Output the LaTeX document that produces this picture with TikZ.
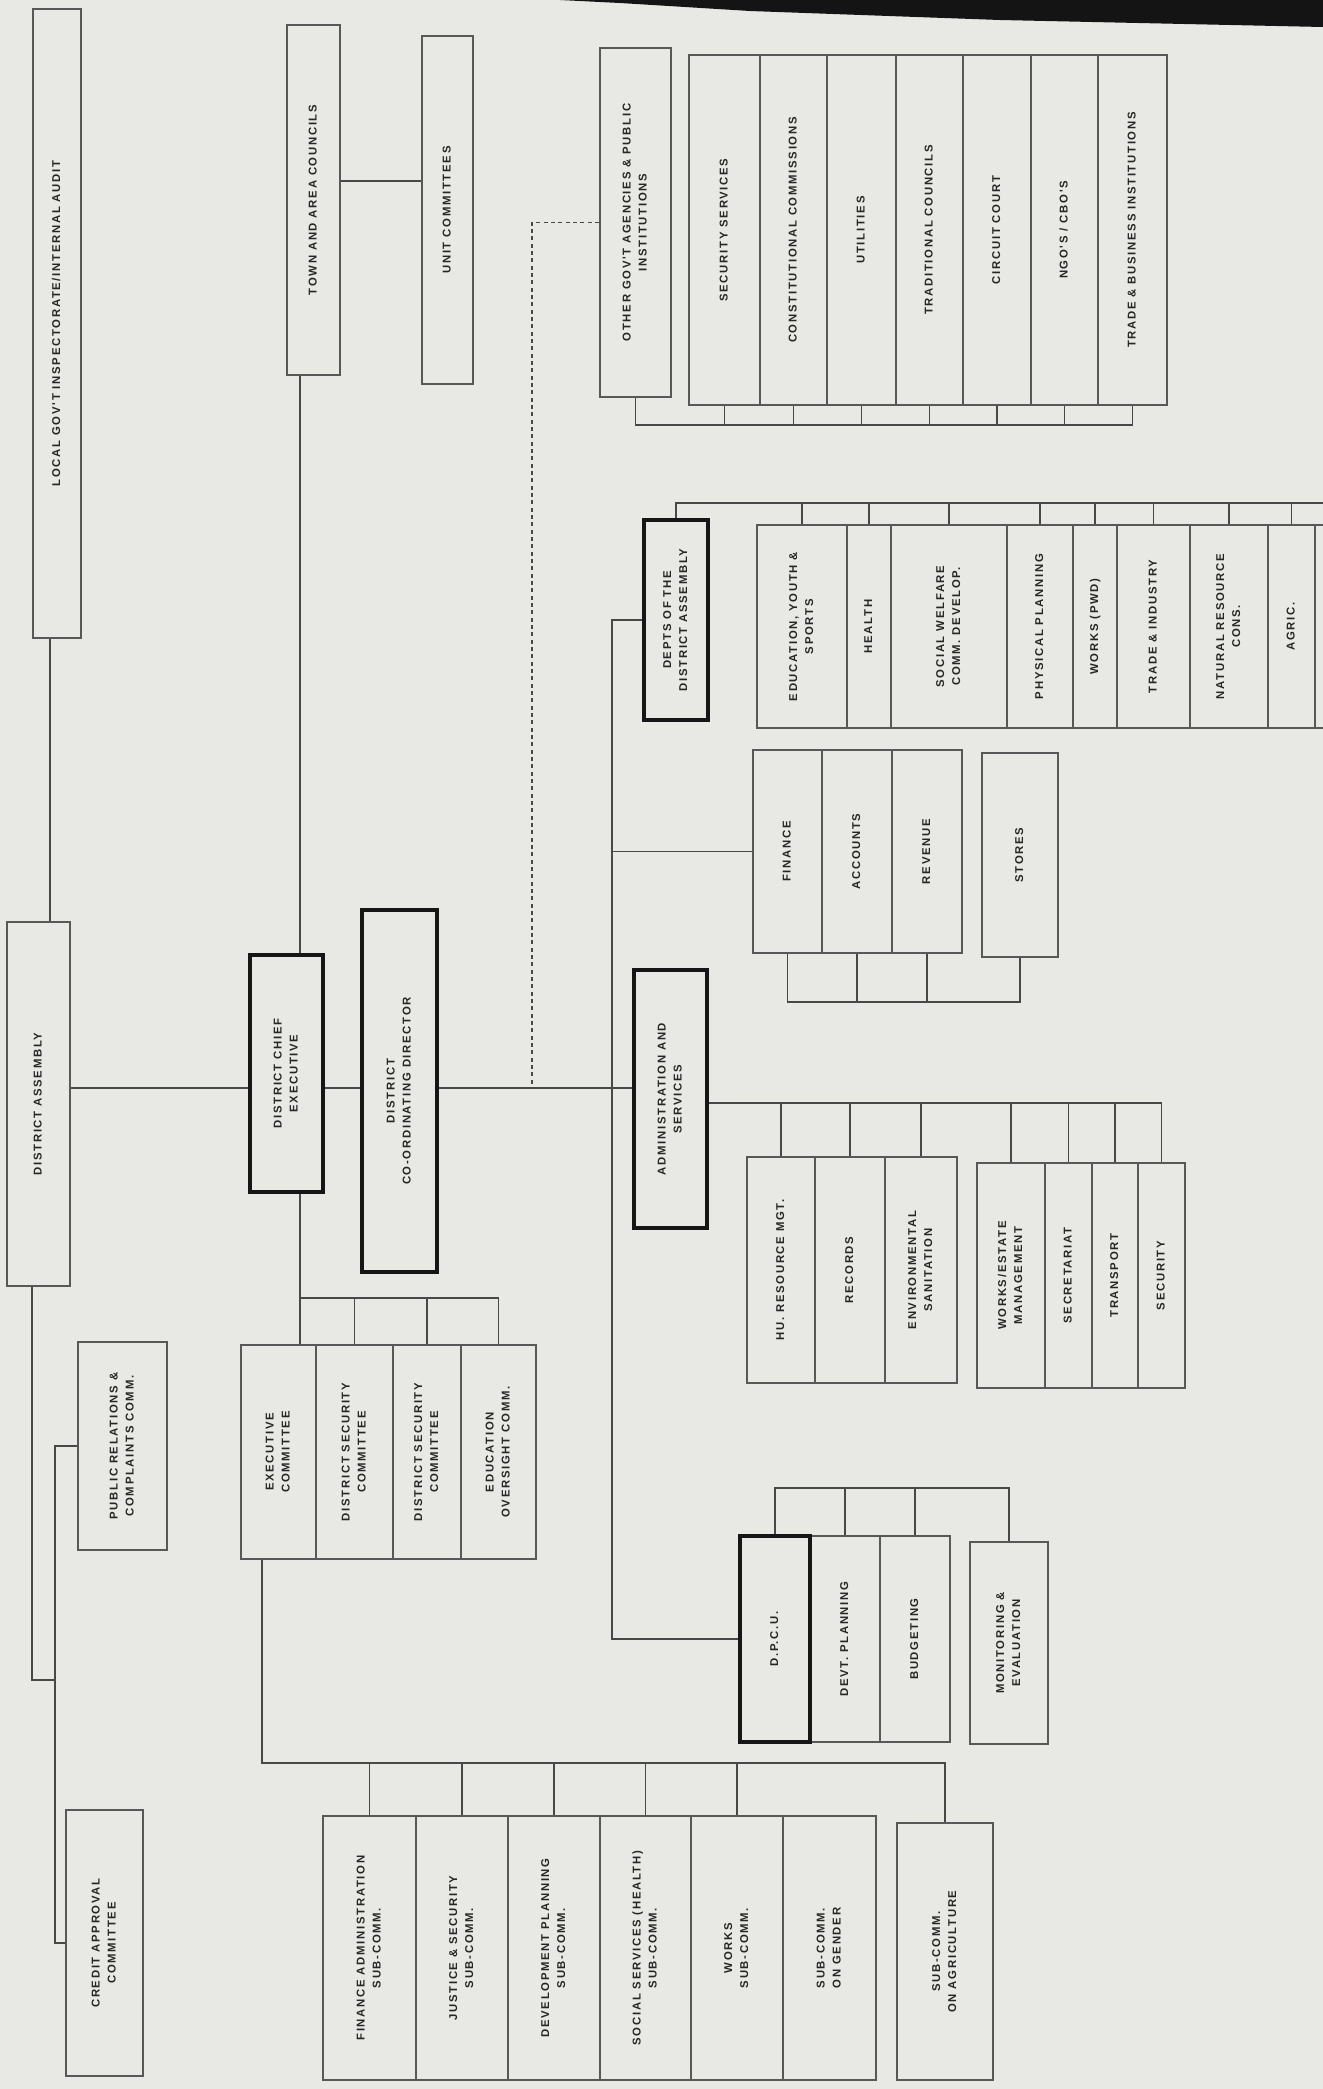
\documentclass[tikz,border=0pt]{standalone}
\usepackage{fontspec}
\usepackage{graphicx}
\newfontfamily\chartfont[LetterSpace=15]{Liberation Sans}
\usetikzlibrary{calc,fit}
\definecolor{paper}{RGB}{232,232,229}
\definecolor{ink}{RGB}{88,88,88}
\definecolor{inkdark}{RGB}{22,22,22}
\definecolor{wirecol}{RGB}{72,72,72}
\definecolor{txt}{RGB}{38,38,38}
\newcommand{\vtxt}[1]{\rotatebox{90}{\begin{tabular}{@{}c@{}}#1\end{tabular}}}
\tikzset{
  lbl/.style={inner sep=0pt, text=txt,
    font={\chartfont\bfseries\fontsize{8.5}{12}\selectfont}},
  cell/.style={draw=ink, line width=1.5pt, inner sep=0pt},
  head/.style={cell, draw=inkdark, line width=3pt},
  say/.style={label={[lbl]center:#1}},
  wire/.style={draw=wirecol, line width=1.3pt},
  link/.style={wire, dash pattern=on 3pt off 2.5pt}
}

\begin{document}
\begin{tikzpicture}[x=0.75pt,y=-0.75pt]
  \fill[paper] (0,0) rectangle (1323,2089);
  \useasboundingbox (0,0) rectangle (1323,2089);
  \clip (0,0) rectangle (1323,2089);
  % edge of the photographed page
  \fill[black!92] (560,0) -- (1323,0) -- (1323,27) -- (1000,20) -- (750,11) -- (620,3) -- cycle;

  % assembly column
  \node[cell, fit={(33,9) (81,638)}, say={\vtxt{LOCAL GOV'T INSPECTORATE/INTERNAL AUDIT}}] (loc) {};
  \node[cell, fit={(7,922) (70,1286)}, say={\vtxt{DISTRICT ASSEMBLY}}] (da) {};
  \node[cell, fit={(78,1342) (167,1550)}, say={\vtxt{PUBLIC RELATIONS \&\\COMPLAINTS COMM.}}] (pr) {};
  \node[cell, fit={(66,1810) (143,2076)}, say={\vtxt{CREDIT APPROVAL\\COMMITTEE}}] (cac) {};

  % councils
  \node[cell, fit={(287,25) (340,375)}, say={\vtxt{TOWN AND AREA COUNCILS}}] (town) {};
  \node[cell, fit={(422,36) (473,384)}, say={\vtxt{UNIT COMMITTEES}}] (unit) {};

  % executive line
  \node[head, fit={(250,955) (323,1192)}, say={\vtxt{DISTRICT CHIEF\\EXECUTIVE}}] (dce) {};
  \node[head, fit={(362,910) (437,1272)}, say={\vtxt{DISTRICT\\CO-ORDINATING DIRECTOR}}] (dcd) {};
  \node[head, fit={(634,970) (707,1228)}, say={\vtxt{ADMINISTRATION AND\\SERVICES}}] (adm) {};

  % agencies
  \node[cell, fit={(600,48) (671,397)}, say={\vtxt{OTHER GOV'T AGENCIES \& PUBLIC\\INSTITUTIONS}}] (other) {};
  \node[cell, fit={(689,55) (760,405)}, say={\vtxt{SECURITY SERVICES}}] (ag1) {};
  \node[cell, fit={(760,55) (827,405)}, say={\vtxt{CONSTITUTIONAL COMMISSIONS}}] (ag2) {};
  \node[cell, fit={(827,55) (896,405)}, say={\vtxt{UTILITIES}}] (ag3) {};
  \node[cell, fit={(896,55) (963,405)}, say={\vtxt{TRADITIONAL COUNCILS}}] (ag4) {};
  \node[cell, fit={(963,55) (1031,405)}, say={\vtxt{CIRCUIT COURT}}] (ag5) {};
  \node[cell, fit={(1031,55) (1098,405)}, say={\vtxt{NGO'S / CBO'S}}] (ag6) {};
  \node[cell, fit={(1098,55) (1167,405)}, say={\vtxt{TRADE \& BUSINESS INSTITUTIONS}}] (ag7) {};

  % departments
  \node[head, fit={(644,520) (708,720)}, say={\vtxt{DEPTS OF THE\\DISTRICT ASSEMBLY}}] (dep) {};
  \node[cell, fit={(757,525) (847,728)}, say={\vtxt{EDUCATION, YOUTH \&\\SPORTS}}] (dp1) {};
  \node[cell, fit={(847,525) (891,728)}, say={\vtxt{HEALTH}}] (dp2) {};
  \node[cell, fit={(891,525) (1007,728)}, say={\vtxt{SOCIAL WELFARE\\COMM. DEVELOP.}}] (dp3) {};
  \node[cell, fit={(1007,525) (1073,728)}, say={\vtxt{PHYSICAL PLANNING}}] (dp4) {};
  \node[cell, fit={(1073,525) (1117,728)}, say={\vtxt{WORKS (PWD)}}] (dp5) {};
  \node[cell, fit={(1117,525) (1190,728)}, say={\vtxt{TRADE \& INDUSTRY}}] (dp6) {};
  \node[cell, fit={(1190,525) (1268,728)}, say={\vtxt{NATURAL RESOURCE\\CONS.}}] (dp7) {};
  \node[cell, fit={(1268,525) (1315,728)}, say={\vtxt{AGRIC.}}] (dp8) {};
  \node[cell, fit={(1315,525) (1345,728)}] (dp9) {};

  % finance
  \node[cell, fit={(753,750) (822,953)}, say={\vtxt{FINANCE}}] (fn1) {};
  \node[cell, fit={(822,750) (892,953)}, say={\vtxt{ACCOUNTS}}] (fn2) {};
  \node[cell, fit={(892,750) (962,953)}, say={\vtxt{REVENUE}}] (fn3) {};
  \node[cell, fit={(982,753) (1058,957)}, say={\vtxt{STORES}}] (fn4) {};

  % administration units
  \node[cell, fit={(747,1157) (815,1383)}, say={\vtxt{HU. RESOURCE MGT.}}] (sv1) {};
  \node[cell, fit={(815,1157) (885,1383)}, say={\vtxt{RECORDS}}] (sv2) {};
  \node[cell, fit={(885,1157) (957,1383)}, say={\vtxt{ENVIRONMENTAL\\SANITATION}}] (sv3) {};
  \node[cell, fit={(977,1163) (1045,1388)}, say={\vtxt{WORKS/ESTATE\\MANAGEMENT}}] (sv4) {};
  \node[cell, fit={(1045,1163) (1092,1388)}, say={\vtxt{SECRETARIAT}}] (sv5) {};
  \node[cell, fit={(1092,1163) (1138,1388)}, say={\vtxt{TRANSPORT}}] (sv6) {};
  \node[cell, fit={(1138,1163) (1185,1388)}, say={\vtxt{SECURITY}}] (sv7) {};

  % committees
  \node[cell, fit={(241,1345) (316,1559)}, say={\vtxt{EXECUTIVE\\COMMITTEE}}] (ex1) {};
  \node[cell, fit={(316,1345) (393,1559)}, say={\vtxt{DISTRICT SECURITY\\COMMITTEE}}] (ex2) {};
  \node[cell, fit={(393,1345) (461,1559)}, say={\vtxt{DISTRICT SECURITY\\COMMITTEE}}] (ex3) {};
  \node[cell, fit={(461,1345) (536,1559)}, say={\vtxt{EDUCATION\\OVERSIGHT COMM.}}] (ex4) {};

  % planning unit
  \node[cell, fit={(810,1536) (880,1742)}, say={\vtxt{DEVT. PLANNING}}] (bp1) {};
  \node[cell, fit={(880,1536) (950,1742)}, say={\vtxt{BUDGETING}}] (bp2) {};
  \node[head, fit={(740,1536) (810,1742)}, say={\vtxt{D.P.C.U.}}] (dpcu) {};
  \node[cell, fit={(970,1542) (1048,1744)}, say={\vtxt{MONITORING \&\\EVALUATION}}] (me) {};

  % sub-committees
  \node[cell, fit={(323,1816) (416,2080)}, say={\vtxt{FINANCE ADMINISTRATION\\SUB-COMM.}}] (sc1) {};
  \node[cell, fit={(416,1816) (508,2080)}, say={\vtxt{JUSTICE \& SECURITY\\SUB-COMM.}}] (sc2) {};
  \node[cell, fit={(508,1816) (600,2080)}, say={\vtxt{DEVELOPMENT PLANNING\\SUB-COMM.}}] (sc3) {};
  \node[cell, fit={(600,1816) (691,2080)}, say={\vtxt{SOCIAL SERVICES (HEALTH)\\SUB-COMM.}}] (sc4) {};
  \node[cell, fit={(691,1816) (783,2080)}, say={\vtxt{WORKS\\SUB-COMM.}}] (sc5) {};
  \node[cell, fit={(783,1816) (876,2080)}, say={\vtxt{SUB-COMM.\\ON GENDER}}] (sc6) {};
  \node[cell, fit={(897,1823) (993,2080)}, say={\vtxt{SUB-COMM.\\ON AGRICULTURE}}] (sc7) {};

  % wiring
  \coordinate (lx) at (50,0);
  \coordinate (trunk) at (0,1088);
  \coordinate (vline) at (300,0);
  \coordinate (exdrop) at (262,0);
  \coordinate (tu) at (0,181);
  \coordinate (ebus) at (0,1298);
  \coordinate (sbus) at (0,1763);
  \coordinate (dl) at (32,1680);
  \coordinate (cl) at (55,1680);
  \coordinate (spine) at (612,0);
  \coordinate (tap) at (532,1088);
  \coordinate (agbus) at (0,425);
  \coordinate (dbus) at (0,503);
  \coordinate (fbus) at (0,1002);
  \coordinate (abus) at (0,1103);
  \coordinate (pbus) at (0,1488);

  \draw[wire] (loc.south -| lx) -- (da.north -| lx);
  \draw[wire] (da.east |- trunk) -- (dce.west |- trunk);
  \draw[wire] (dce.east |- trunk) -- (dcd.west |- trunk);
  \draw[wire] (dcd.east |- trunk) -- (adm.west |- trunk);
  \draw[wire] (da.south -| dl) -- (dl) -- (cl);
  \draw[wire] (pr.west) -- (pr.west -| cl) -- (cac.west -| cl) -- (cac.west);

  \draw[wire] (town.south -| vline) -- (dce.north -| vline);
  \draw[wire] (town.east |- tu) -- (unit.west |- tu);
  \draw[wire] (dce.south -| vline) -- (vline |- ebus) -| (ex4.north);
  \draw[wire] (vline |- ebus) -- (ex1.north -| vline);
  \foreach \c in {ex2,ex3}
    \draw[wire] (\c.north) -- (\c.north |- ebus);
  \draw[wire] (ex1.south -| exdrop) -- (exdrop |- sbus) -| (sc7.north);
  \foreach \c in {sc1,sc2,sc3,sc4,sc5}
    \draw[wire] (\c.north) -- (\c.north |- sbus);

  \draw[link] (other.west) -| (tap);
  \draw[wire] (other.south) -- (other.south |- agbus) -| (ag7.south);
  \foreach \c in {ag1,ag2,ag3,ag4,ag5,ag6}
    \draw[wire] (\c.south) -- (\c.south |- agbus);

  \draw[wire] (dep.west) -- (dep.west -| spine) -- (spine |- dpcu.west) -- (dpcu.west);
  \draw[wire] (dep.north) -- (dep.north |- dbus) -| (dp9.north);
  \foreach \c in {dp1,dp2,dp3,dp4,dp5,dp6,dp7,dp8}
    \draw[wire] (\c.north) -- (\c.north |- dbus);
  \draw[wire] (fn1.west -| spine) -- (fn1.west);
  \draw[wire] (fn1.south) -- (fn1.south |- fbus) -| (fn4.south);
  \foreach \c in {fn2,fn3}
    \draw[wire] (\c.south) -- (\c.south |- fbus);

  \draw[wire] (adm.east |- abus) -| (sv7.north);
  \foreach \c in {sv1,sv2,sv3,sv4,sv5,sv6}
    \draw[wire] (\c.north) -- (\c.north |- abus);

  \draw[wire] (dpcu.north) -- (dpcu.north |- pbus) -| (me.north);
  \foreach \c in {bp1,bp2}
    \draw[wire] (\c.north) -- (\c.north |- pbus);
\end{tikzpicture}
\end{document}
